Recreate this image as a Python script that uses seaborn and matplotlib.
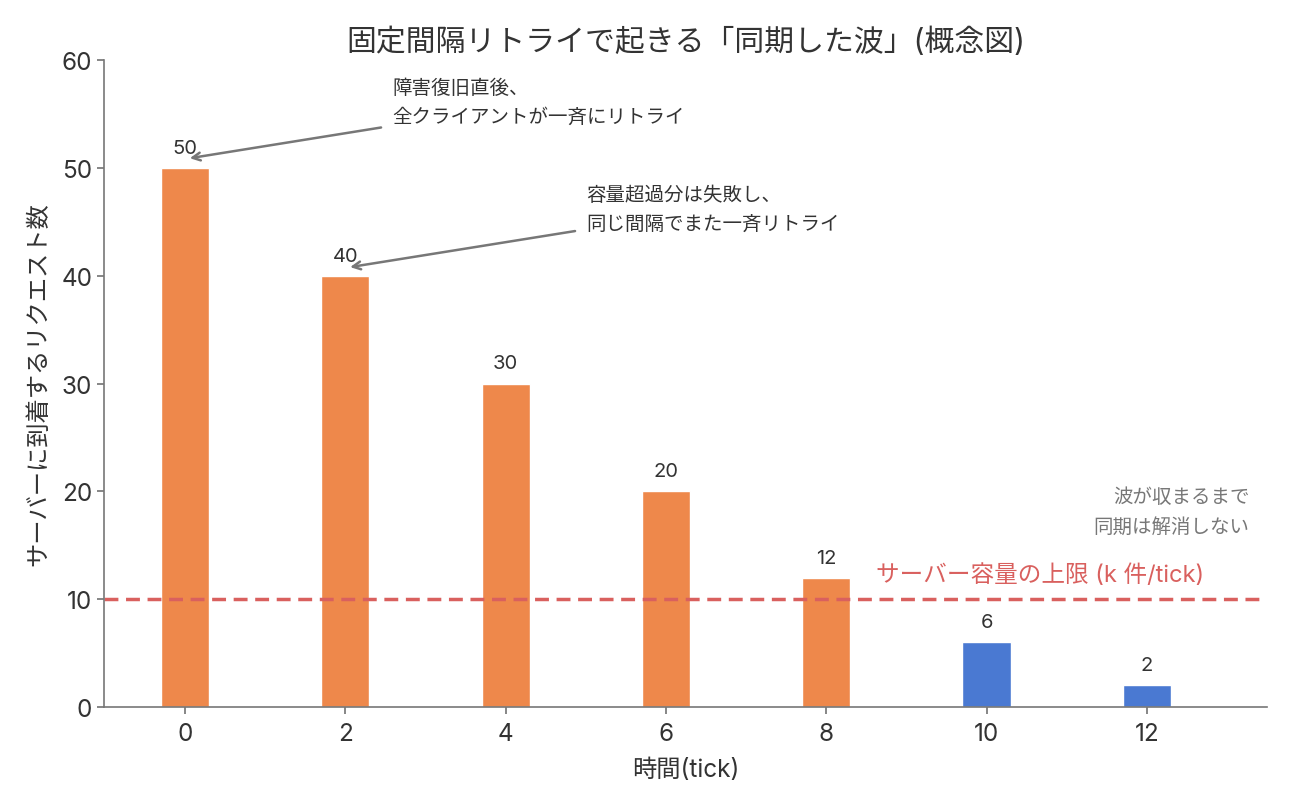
import matplotlib
matplotlib.use("Agg")
import matplotlib.pyplot as plt
import seaborn as sns
import pandas as pd

# data
ticks = [0, 2, 4, 6, 8, 10, 12]
requests = [50, 40, 30, 20, 12, 6, 2]
capacity = 10
title = "固定間隔リトライで起きる「同期した波」(概念図)"
xlabel = "時間(tick)"
ylabel = "サーバーに到着するリクエスト数"
note1 = "障害復旧直後、\n全クライアントが一斉にリトライ"
note2 = "容量超過分は失敗し、\n同じ間隔でまた一斉リトライ"
note3 = "波が収まるまで\n同期は解消しない"
cap_label = "サーバー容量の上限 (k 件/tick)"

sns.set_theme(style="ticks")
plt.rcParams['font.family'] = ['Inter', 'Noto Sans CJK JP', 'DejaVu Sans']

df = pd.DataFrame({"tick": ticks, "req": requests})
df["over"] = ["over" if v > capacity else "under" for v in requests]

fig = plt.figure(figsize=(12.89, 8.04), dpi=100)
ax = fig.add_axes([0.0807, 0.1194, 0.9023, 0.8046])

sns.barplot(data=df, x="tick", y="req", hue="over",
            palette={"over": "#EE884B", "under": "#4A79D2"},
            native_scale=True, width=0.3, dodge=False, legend=False,
            saturation=1, ax=ax)

for c in ax.containers:
    ax.bar_label(c, padding=8, fontsize=14.5, color="#333333")

ax.axhline(capacity, color="#D9605E", linestyle=(0, (4, 2.2)), linewidth=2.5)

ax.set_xlim(-1.01, 13.5)
ax.set_ylim(0, 60)
ax.set_xticks(ticks)
ax.set_yticks([0, 10, 20, 30, 40, 50, 60])
ax.tick_params(axis="both", labelsize=17.5, colors="#333333", length=5)
ax.tick_params(axis="x", pad=6)
ax.tick_params(axis="both", color="#777777")
for s in ["top", "right"]:
    ax.spines[s].set_visible(False)
for s in ["left", "bottom"]:
    ax.spines[s].set_color("#777777")
    ax.spines[s].set_linewidth(1.2)

ax.set_title(title, fontsize=21.5, color="#333333", pad=7)
ax.set_xlabel(xlabel, fontsize=17.5, color="#333333", labelpad=9)
ax.set_ylabel(ylabel, fontsize=17.5, color="#333333", labelpad=8)

arrow = dict(arrowstyle="->", color="#777777", lw=1.8, shrinkA=6, shrinkB=0)
ax.annotate(note1, xy=(0.06, 50.9), xytext=(2.59, 56.1), fontsize=14,
            color="#333333", ha="left", va="center", linespacing=1.75,
            arrowprops=arrow)
ax.annotate(note2, xy=(2.06, 40.8), xytext=(5.01, 46.2), fontsize=14,
            color="#333333", ha="left", va="center", linespacing=1.75,
            arrowprops=arrow)
ax.text(13.28, 18.1, note3, fontsize=14, color="#777777", ha="right",
        va="center", linespacing=1.75)
ax.text(8.62, 12.3, cap_label, fontsize=17, color="#D9605E", ha="left",
        va="center")

fig.savefig("out.png", dpi=100)
